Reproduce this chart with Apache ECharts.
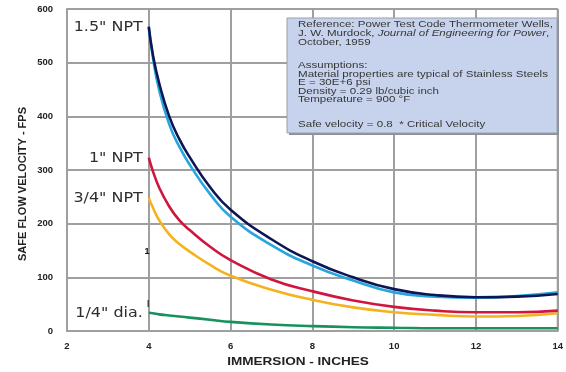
<!DOCTYPE html>
<html>
<head>
<meta charset="utf-8">
<script src="https://cdn.jsdelivr.net/npm/echarts@6/dist/echarts.min.js"></script>
<style>
html,body{margin:0;padding:0;background:#fff;}
#c{width:566px;height:372px;}
</style>
</head>
<body>
<div id="c"></div>
<script>
// Data
const immersion  = [4, 4.1, 4.25, 4.5, 4.75, 5, 5.5, 6, 7, 8, 9, 10, 11, 12, 13, 14];
const npt15Dark  = [567, 515, 463, 400, 357, 324, 268, 226, 171, 130, 100, 78, 67, 63, 64, 69];
const npt15Light = [565, 510, 450, 385, 343, 310, 255, 213, 160, 122, 94, 72, 64, 62, 65, 72];
const npt1       = [323, 298, 268, 232, 206, 188, 157, 132, 96, 74, 57, 45, 38, 35, 35, 38];
const npt34      = [248, 230, 207, 180, 162, 148, 123, 103, 77, 58, 44, 35, 30, 27, 28, 33];
const dia14      = [34, 33, 31, 29, 27, 25, 21, 17, 12, 9, 7, 6, 5, 5, 5, 5];
const xTicks = [2, 4, 6, 8, 10, 12, 14];
const yTicks = [0, 100, 200, 300, 400, 500, 600];
const curveLabels = ['1.5" NPT', '1" NPT', '3/4" NPT', '1/4" dia.'];
const noteLines = [
  'Reference: Power Test Code Thermometer Wells,',
  ['J. W. Murdock, ', 'Journal of Engineering for Power', ','],
  'October, 1959',
  '',
  'Assumptions:',
  'Material properties are typical of Stainless Steels',
  'E = 30E+6 psi',
  'Density = 0.29 lb/cubic inch',
  'Temperature = 900 \u00B0F',
  '',
  'Safe velocity = 0.8  * Critical Velocity'
];
const xName = 'IMMERSION - INCHES';
const yName = 'SAFE FLOW VELOCITY - FPS';

const pairs = ys => immersion.map((x, i) => [x, ys[i]]);
const gridColor = '#9f9f9f';
const chart = echarts.init(document.getElementById('c'), null, {renderer: 'canvas'});

const lineSeries = (name, ys, color) => ({
  name, type: 'line', data: pairs(ys), smooth: 0.5, showSymbol: false,
  lineStyle: {color, width: 2.6}, z: 3
});

chart.setOption({
  animation: false,
  backgroundColor: '#fff',
  grid: {left: 67, right: 8, top: 9, bottom: 41},
  xAxis: {
    type: 'value', min: xTicks[0], max: xTicks[xTicks.length - 1], interval: 2,
    axisLine: {show: true, lineStyle: {color: gridColor, width: 2}},
    axisTick: {show: false},
    splitLine: {show: true, lineStyle: {color: gridColor, width: 2}},
    axisLabel: {margin: 10, color: '#222', fontWeight: 'bold', fontSize: 9.5, fontFamily: 'Liberation Sans, Arial'}
  },
  yAxis: {
    type: 'value', min: yTicks[0], max: yTicks[yTicks.length - 1], interval: 100,
    axisLine: {show: true, lineStyle: {color: gridColor, width: 2}},
    axisTick: {show: false},
    splitLine: {show: true, lineStyle: {color: gridColor, width: 2}},
    axisLabel: {margin: 14, color: '#222', fontWeight: 'bold', fontSize: 9.5, fontFamily: 'Liberation Sans, Arial'}
  },
  series: [
    lineSeries('1/4 dia', dia14, '#17925a'),
    lineSeries('3/4 NPT', npt34, '#f6b21e'),
    lineSeries('1 NPT', npt1, '#d1163e'),
    lineSeries('1.5 NPT light', npt15Light, '#27a6dd'),
    lineSeries('1.5 NPT dark', npt15Dark, '#0c1656')
  ]
});

const gridRightTop = chart.convertToPixel({gridIndex: 0}, [14, 600]);
const gridRightBot = chart.convertToPixel({gridIndex: 0}, [14, 0]);
const gridLeftTop = chart.convertToPixel({gridIndex: 0}, [2, 600]);

// Curve labels anchored at the first point of each curve
const starts = [npt15Dark[0], npt1[0], npt34[0], dia14[0]];
const labelEls = curveLabels.map((t, i) => {
  const p = chart.convertToPixel({gridIndex: 0}, [immersion[0], starts[i]]);
  return {
    type: 'text', x: p[0] - 6, y: p[1] + 0.5, scaleX: 1.1,
    style: {text: t, fill: '#2e2e2e', font: '14.5px "DejaVu Sans", Verdana, sans-serif', align: 'right', verticalAlign: 'middle'},
    z: 10
  };
});

// Note box
const boxX = 287, boxY = 18, boxW = 270, boxH = 115;
const lineMids = [24.5, 33.5, 42.5, 0, 65, 74, 82.5, 91, 99.5, 0, 124.5];
const sx = 1.18;
const noteEls = [];
noteLines.forEach((ln, i) => {
  if (ln === '') return;
  const y = lineMids[i];
  if (Array.isArray(ln)) {
    noteEls.push({
      type: 'text', x: boxX + 11, y, scaleX: sx,
      style: {
        text: '{n|' + ln[0] + '}{i|' + ln[1] + '}{n|' + ln[2] + '}',
        rich: {
          n: {fontSize: 9.8, fontFamily: 'Liberation Sans, Arial', fill: '#363636'},
          i: {fontSize: 9.8, fontFamily: 'Liberation Sans, Arial', fontStyle: 'italic', fill: '#363636'}
        },
        verticalAlign: 'middle'
      }, z: 21
    });
  } else {
    noteEls.push({
      type: 'text', x: boxX + 11, y, scaleX: sx,
      style: {text: ln, fill: '#363636', font: '9.8px "Liberation Sans", Arial', verticalAlign: 'middle'},
      z: 21
    });
  }
});

chart.setOption({
  graphic: [
    {type: 'line', shape: {x1: gridRightTop[0], y1: gridRightTop[1], x2: gridRightBot[0], y2: gridRightBot[1]},
     style: {stroke: gridColor, lineWidth: 2}, z: 1},
    {type: 'line', shape: {x1: gridLeftTop[0], y1: gridRightTop[1], x2: gridRightTop[0], y2: gridRightTop[1]},
     style: {stroke: gridColor, lineWidth: 2}, z: 1},
    {type: 'rect', shape: {x: boxX + 2, y: boxY + 2, width: boxW, height: boxH}, style: {fill: '#8a8f99'}, z: 19},
    {type: 'rect', shape: {x: boxX, y: boxY, width: boxW, height: boxH}, style: {fill: '#c7d3ec', stroke: '#9aa0aa', lineWidth: 1}, z: 20},
    ...noteEls,
    ...labelEls,
    {type: 'text', x: 147, y: 252, style: {text: '1', fill: '#111', font: 'bold 9px "Liberation Sans", Arial', align: 'center', verticalAlign: 'middle'}, z: 10},
    {type: 'text', x: 148, y: 303, style: {text: '|', fill: '#111', font: 'bold 8px "Liberation Sans", Arial', align: 'center', verticalAlign: 'middle'}, z: 10},
    {type: 'text', x: 298, y: 362, scaleX: 1.18, style: {text: xName, fill: '#222', font: 'bold 11.5px "Liberation Sans", Arial', align: 'center', verticalAlign: 'middle'}, z: 10},
    {type: 'text', x: 22.5, y: 184, rotation: Math.PI / 2,
     style: {text: yName, fill: '#222', font: 'bold 11px "Liberation Sans", Arial', align: 'center', verticalAlign: 'middle'}, z: 10}
  ]
});
</script>
</body>
</html>
